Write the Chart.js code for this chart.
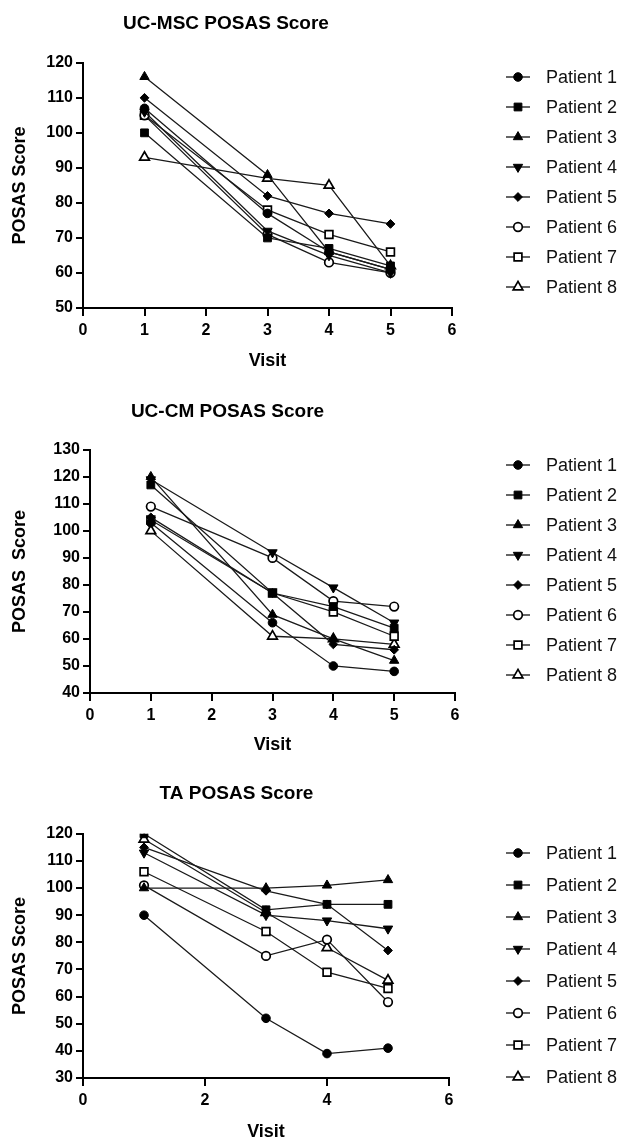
<!DOCTYPE html>
<html>
<head>
<meta charset="utf-8">
<script src="https://cdn.jsdelivr.net/npm/chart.js@4.4.0/dist/chart.umd.min.js"></script>
<style>
  html, body { margin: 0; padding: 0; background: #fff; }
  .panel { position: absolute; left: 0; width: 632px; height: 380px; }
</style>
</head>
<body>
<div class="panel" style="top:0px"><canvas id="c1" width="632" height="380"></canvas></div>
<div class="panel" style="top:380px"><canvas id="c2" width="632" height="380"></canvas></div>
<div class="panel" style="top:760px"><canvas id="c3" width="632" height="380"></canvas></div>
<script>
// ---------------- DATA ----------------
const visits = [1, 3, 4, 5];
const patientLabels = ['Patient 1', 'Patient 2', 'Patient 3', 'Patient 4',
                       'Patient 5', 'Patient 6', 'Patient 7', 'Patient 8'];

// UC-MSC POSAS Score (visits 1,3,4,5)
const mscP1 = [107, 77, 66, 61];
const mscP2 = [100, 70, 67, 62];
const mscP3 = [116, 88, 66, 61];
const mscP4 = [106, 72, 65, 60];
const mscP5 = [110, 82, 77, 74];
const mscP6 = [105, 71, 63, 60];
const mscP7 = [105, 78, 71, 66];
const mscP8 = [93, 87, 85, 62];

// UC-CM POSAS Score
const cmP1 = [103, 66, 50, 48];
const cmP2 = [117, 77, 72, 64];
const cmP3 = [120, 69, 60, 52];
const cmP4 = [119, 92, 79, 66];
const cmP5 = [105, 77, 58, 56];
const cmP6 = [109, 90, 74, 72];
const cmP7 = [104, 77, 70, 61];
const cmP8 = [100, 61, 60, 58];

// TA POSAS Score
const taP1 = [90, 52, 39, 41];
const taP2 = [120, 92, 94, 94];
const taP3 = [100, 100, 101, 103];
const taP4 = [113, 90, 88, 85];
const taP5 = [115, 99, 94, 77];
const taP6 = [101, 75, 81, 58];
const taP7 = [106, 84, 69, 63];
const taP8 = [118, 91, 78, 66];

// tick labels
const mscYTicks = [50, 60, 70, 80, 90, 100, 110, 120];
const cmYTicks = [40, 50, 60, 70, 80, 90, 100, 110, 120, 130];
const taYTicks = [30, 40, 50, 60, 70, 80, 90, 100, 110, 120];
const xTicksFine = [0, 1, 2, 3, 4, 5, 6];
const xTicksCoarse = [0, 2, 4, 6];

// ---------------- STYLES ----------------
const FONT = "'Liberation Sans', Arial, Helvetica, sans-serif";
Chart.defaults.font.family = FONT;
const markerStyles = ['circle', 'rect', 'triangle', 'triangle', 'rectRot', 'circle', 'rect', 'triangle'];
const markerRotation = [0, 0, 0, 180, 0, 0, 0, 0];
const markerFilled = [true, true, true, true, true, false, false, false];
const markerRadius = [4.3, 5.5, 5.4, 5.4, 4.4, 4.3, 5.5, 5.6];

const lineLegend = {
  id: 'lineLegend',
  afterDraw(chart, args, opts) {
    const ctx = chart.ctx;
    ctx.save();
    chart.data.datasets.forEach((ds, i) => {
      const y = opts.y0 + i * opts.step;
      ctx.strokeStyle = '#111';
      ctx.lineWidth = 1.3;
      ctx.beginPath();
      ctx.moveTo(opts.x0, y);
      ctx.lineTo(opts.x0 + opts.len, y);
      ctx.stroke();
      ctx.fillStyle = ds.pointBackgroundColor;
      ctx.strokeStyle = '#000';
      ctx.lineWidth = ds.pointBorderWidth;
      Chart.helpers.drawPoint(ctx, {
        pointStyle: ds.pointStyle, rotation: ds.pointRotation,
        radius: ds.pointRadius, borderWidth: ds.pointBorderWidth
      }, opts.x0 + opts.len / 2, y);
      ctx.fillStyle = '#111';
      ctx.font = '18px ' + FONT;
      ctx.textBaseline = 'middle';
      ctx.textAlign = 'left';
      ctx.fillText(ds.label, opts.tx, y + 1);
    });
    ctx.restore();
  }
};

function makeChart(id, title, yTitle, series, yTicks, xTicks, g) {
  const tickFont = { family: FONT, size: 16, weight: 'bold' };
  const axisTitleFont = { family: FONT, size: 18, weight: 'bold' };
  new Chart(document.getElementById(id), {
    type: 'line',
    data: {
      datasets: series.map((s, i) => ({
        label: patientLabels[i],
        data: visits.map((v, j) => ({ x: v, y: s[j] })),
        borderColor: '#1a1a1a',
        borderWidth: 1.3,
        pointStyle: markerStyles[i],
        pointRotation: markerRotation[i],
        pointRadius: markerRadius[i],
        pointBackgroundColor: markerFilled[i] ? '#000' : '#fff',
        pointBorderColor: '#000',
        pointBorderWidth: markerFilled[i] ? 1 : 1.7,
        tension: 0,
        fill: false
      }))
    },
    options: {
      responsive: false,
      animation: false,
      events: [],
      layout: { padding: { left: g.pl, right: g.pr, top: g.pt, bottom: 0 } },
      plugins: {
        legend: { display: false },
        tooltip: { enabled: false },
        title: {
          display: true, text: title, color: '#000',
          font: { family: FONT, size: 19, weight: 'bold' },
          padding: { top: 0, bottom: g.gap }
        },
        lineLegend: { x0: 506, len: 24, tx: 546, y0: g.ly0, step: g.lstep }
      },
      scales: {
        x: {
          type: 'linear',
          min: xTicks[0], max: xTicks[xTicks.length - 1],
          afterBuildTicks: (axis) => { axis.ticks = xTicks.map(v => ({ value: v })); },
          ticks: { color: '#000', font: tickFont, padding: 5 },
          grid: { drawOnChartArea: false, drawTicks: true, tickLength: 8, color: '#000', lineWidth: 2 },
          border: { display: true, color: '#000', width: 2 },
          title: { display: true, text: 'Visit', color: '#000', font: axisTitleFont, padding: { top: 0, bottom: g.xtb } },
          afterFit: (axis) => { axis.height = g.xh; }
        },
        y: {
          type: 'linear',
          min: yTicks[0], max: yTicks[yTicks.length - 1],
          afterBuildTicks: (axis) => { axis.ticks = yTicks.map(v => ({ value: v })); },
          ticks: { color: '#000', font: tickFont, padding: 3 },
          grid: { drawOnChartArea: false, drawTicks: true, tickLength: 7, color: '#000', lineWidth: 2 },
          border: { display: true, color: '#000', width: 2 },
          title: { display: true, text: yTitle, color: '#000', font: axisTitleFont, padding: { top: g.ytp, bottom: 0 } },
          afterFit: (axis) => { axis.width = g.left - g.pl; }
        }
      }
    },
    plugins: [lineLegend]
  });
}

makeChart('c1', 'UC-MSC POSAS Score', 'POSAS Score',
  [mscP1, mscP2, mscP3, mscP4, mscP5, mscP6, mscP7, mscP8],
  mscYTicks, xTicksFine,
  { pl: 0, left: 83, pr: 180, pt: 12, gap: 28, xh: 72, xtb: 8, ytp: 9, ly0: 77, lstep: 30 });

makeChart('c2', 'UC-CM POSAS Score', 'POSAS  Score',
  [cmP1, cmP2, cmP3, cmP4, cmP5, cmP6, cmP7, cmP8],
  cmYTicks, xTicksFine,
  { pl: 0, left: 90, pr: 177, pt: 20, gap: 27, xh: 67, xtb: 4, ytp: 9, ly0: 85, lstep: 30 });

makeChart('c3', 'TA POSAS Score', 'POSAS Score',
  [taP1, taP2, taP3, taP4, taP5, taP6, taP7, taP8],
  taYTicks, xTicksCoarse,
  { pl: 24, left: 83, pr: 183, pt: 22.5, gap: 28.5, xh: 62, xtb: -3, ytp: -15, ly0: 93, lstep: 32 });
</script>
</body>
</html>
